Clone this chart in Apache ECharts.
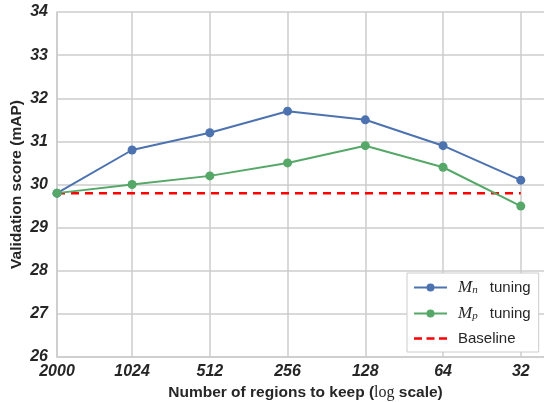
<!DOCTYPE html>
<html><head><meta charset="utf-8">
<script src="https://cdn.jsdelivr.net/npm/echarts@6/dist/echarts.min.js"></script>
<style>html,body{margin:0;padding:0;background:#fff}#c{width:544px;height:402px}</style>
</head><body><div id="c"></div>
<script>
const regions = [2000, 1024, 512, 256, 128, 64, 32];
const mnScores = [29.8, 30.8, 31.2, 31.7, 31.5, 30.9, 30.1];
const mpScores = [29.8, 30.0, 30.2, 30.5, 30.9, 30.4, 29.5];
const baseline = [29.8, 29.8];
const baselineX = [2000, 32];
const yTicks = [26, 34, 1];

const chart = echarts.init(document.getElementById('c'));
const font = 'Liberation Sans, Arial, sans-serif';
const serif = 'Liberation Serif, DejaVu Serif, serif';
const pair = (xs, ys) => xs.map((x, i) => [x, ys[i]]);
chart.setOption({
  animation: false,
  grid: {left: 57, right: -10, top: 12, bottom: 45, outerBoundsMode: 'none', containLabel: false},
  xAxis: {
    type: 'log', logBase: 2, inverse: true, min: 23.8, max: 2000,
    axisLine: {show: true, lineStyle: {color: '#cccccc', width: 1.5}},
    axisTick: {show: false},
    splitLine: {show: true, lineStyle: {color: '#cccccc', width: 1.5}},
    axisLabel: {
      color: '#262626', fontFamily: font, fontSize: 16, fontWeight: 'bold', fontStyle: 'italic', margin: 7,
      formatter: v => (v < 30 ? '' : String(Math.round(v)))
    },
    name: 'Number of regions to keep ({lg|log} scale)',
    nameLocation: 'middle', nameGap: 28, nameMoveOverlap: false,
    nameTextStyle: {
      color: '#262626', fontFamily: font, fontSize: 15.5, fontWeight: 'bold',
      rich: {lg: {fontFamily: serif, fontSize: 16, fontWeight: 'normal', color: '#262626'}}
    }
  },
  yAxis: {
    type: 'value', min: yTicks[0], max: yTicks[1], interval: yTicks[2],
    axisLine: {show: true, lineStyle: {color: '#cccccc', width: 1.5}},
    axisTick: {show: false},
    splitLine: {show: true, lineStyle: {color: '#cccccc', width: 1.5}},
    axisLabel: {color: '#262626', fontFamily: font, fontSize: 16, fontWeight: 'bold', fontStyle: 'italic', margin: 9},
    name: 'Validation score (mAP)', nameLocation: 'middle', nameGap: 32, nameMoveOverlap: false,
    nameTextStyle: {color: '#262626', fontFamily: font, fontSize: 15.5, fontWeight: 'bold'}
  },
  legend: {
    orient: 'vertical', left: 407, top: 273, itemWidth: 33, itemHeight: 10, itemGap: 9,
    backgroundColor: '#ffffff', borderColor: '#cccccc', borderWidth: 1, borderRadius: 0,
    padding: [6, 8, 6, 6],
    data: ['Mn tuning', 'Mp tuning',
      {name: 'Baseline', icon: 'path://M0,0h8v2.4h-8z M12.5,0h8v2.4h-8z M25,0h8v2.4h-8z'}],
    formatter: n => n === 'Mn tuning' ? '{m|M}{s|n} tuning' : n === 'Mp tuning' ? '{m|M}{s|p} tuning' : n,
    textStyle: {
      color: '#262626', fontFamily: font, fontSize: 15, padding: [0, 0, 0, 6],
      rich: {
        m: {fontFamily: serif, fontStyle: 'italic', fontSize: 17, color: '#262626'},
        s: {fontFamily: serif, fontStyle: 'italic', fontSize: 11, color: '#262626', verticalAlign: 'bottom', padding: [6, 8, 0, 0]}
      }
    }
  },
  series: [
    {name: 'Mn tuning', type: 'line', data: pair(regions, mnScores), symbol: 'circle', symbolSize: 9,
     itemStyle: {color: '#4c72b0'}, lineStyle: {color: '#4c72b0', width: 2}, z: 3},
    {name: 'Mp tuning', type: 'line', data: pair(regions, mpScores), symbol: 'circle', symbolSize: 9,
     itemStyle: {color: '#55a868'}, lineStyle: {color: '#55a868', width: 2}, z: 3},
    {name: 'Baseline', type: 'line', data: pair(baselineX, baseline), symbol: 'none',
     itemStyle: {color: '#ff0000'}, lineStyle: {color: '#ff0000', width: 2.5, type: [8, 6]}, z: 2}
  ]
});
</script></body></html>
